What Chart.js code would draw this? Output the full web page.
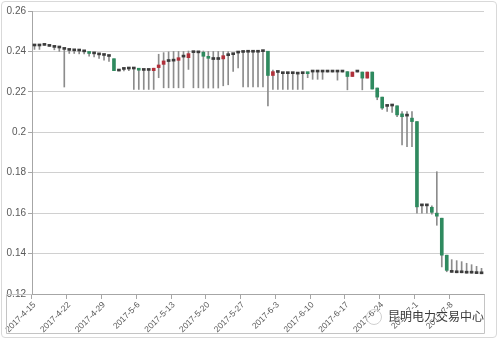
<!DOCTYPE html>
<html lang="zh-CN">
<head>
<meta charset="UTF-8">
<title>电价K线</title>
<script src="https://cdn.jsdelivr.net/npm/chart.js@4.4.0/dist/chart.umd.min.js"></script>
<style>
    * { margin: 0; padding: 0; box-sizing: border-box; }
    body { width: 499px; height: 340px; background: #fff; overflow: hidden; position: relative; }
    .frame { position: absolute; left: 1px; top: 1px; width: 496px; height: 337px; border: 1px solid #d9d9d9; border-radius: 4px; }
    .chart-box { position: absolute; left: 0; top: 0; width: 499px; height: 340px; }
    .logo { position: absolute; left: 366px; top: 309px; width: 16px; height: 16px; border: 1.5px solid #d0d0d0; border-radius: 50%; }
    .mark { position: absolute; left: 388px; top: 307px; font-family: 'Noto Sans CJK SC', sans-serif; font-size: 12px; color: #3a3a3a; text-shadow: 0 0 2px #fff, 0 0 2px #fff; white-space: nowrap; }
</style>
</head>
<body>
<div class="frame"></div>
<div class="chart-box"><canvas id="kChart"></canvas></div>
<div class="logo"></div>
<div class="mark">昆明电力交易中心</div>

<script>
    // daily candles from 2017-4-15
    const categories = [];
    for (let d = 0; d < 91; d++) {
        const t = new Date(2017, 3, 15 + d);
        categories.push(t.getFullYear() + '-' + (t.getMonth() + 1) + '-' + t.getDate());
    }

    const opens = [
        0.2427, 0.2427, 0.2430, 0.2425, 0.2420, 0.2417, 0.2410, 0.2405, 0.2403, 0.2402,
        0.2398, 0.2395, 0.2388, 0.2383, 0.2380, 0.2375, 0.2364, 0.2303, 0.2311, 0.2313,
        0.2313, 0.2313, 0.2306, 0.2306, 0.2305, 0.2320, 0.2336, 0.2350, 0.2352, 0.2356,
        0.2372, 0.2369, 0.2394, 0.2393, 0.2396, 0.2373, 0.2360, 0.2360, 0.2363, 0.2379,
        0.2384, 0.2392, 0.2395, 0.2396, 0.2396, 0.2396, 0.2399, 0.2401, 0.2281, 0.2296,
        0.2290, 0.2290, 0.2290, 0.2288, 0.2290, 0.2296, 0.2298, 0.2298, 0.2298, 0.2298,
        0.2298, 0.2298, 0.2298, 0.2300, 0.2276, 0.2298, 0.2298, 0.2268, 0.2298, 0.2219,
        0.2174, 0.2128, 0.2130, 0.2131, 0.2091, 0.2080, 0.2070, 0.2053, 0.1636, 0.1636,
        0.1629, 0.1600, 0.1575, 0.1392, 0.1307, 0.1305, 0.1305, 0.1303, 0.1303, 0.1301,
        0.1300
    ];
    const highs = [
        0.2427, 0.2427, 0.2430, 0.2425, 0.2420, 0.2417, 0.2410, 0.2405, 0.2403, 0.2402,
        0.2398, 0.2395, 0.2388, 0.2383, 0.2380, 0.2375, 0.2364, 0.2303, 0.2311, 0.2313,
        0.2313, 0.2313, 0.2306, 0.2306, 0.2317, 0.2386, 0.2394, 0.2398, 0.2400, 0.2400,
        0.2400, 0.2402, 0.2394, 0.2393, 0.2402, 0.2400, 0.2400, 0.2400, 0.2400, 0.2399,
        0.2384, 0.2392, 0.2395, 0.2396, 0.2396, 0.2396, 0.2399, 0.2401, 0.2308, 0.2296,
        0.2290, 0.2290, 0.2290, 0.2288, 0.2290, 0.2296, 0.2298, 0.2298, 0.2298, 0.2298,
        0.2298, 0.2298, 0.2298, 0.2300, 0.2298, 0.2298, 0.2298, 0.2298, 0.2298, 0.2219,
        0.2174, 0.2128, 0.2130, 0.2131, 0.2103, 0.2103, 0.2103, 0.2053, 0.1636, 0.1636,
        0.1636, 0.1805, 0.1575, 0.1392, 0.1370, 0.1365, 0.1360, 0.1352, 0.1345, 0.1337,
        0.1327
    ];
    const lows = [
        0.2410, 0.2410, 0.2430, 0.2425, 0.2408, 0.2400, 0.2224, 0.2390, 0.2390, 0.2388,
        0.2388, 0.2377, 0.2373, 0.2366, 0.2357, 0.2350, 0.2305, 0.2303, 0.2303, 0.2305,
        0.2212, 0.2212, 0.2212, 0.2212, 0.2212, 0.2270, 0.2220, 0.2220, 0.2220, 0.2220,
        0.2220, 0.2311, 0.2220, 0.2220, 0.2219, 0.2219, 0.2219, 0.2219, 0.2230, 0.2235,
        0.2301, 0.2318, 0.2225, 0.2225, 0.2225, 0.2225, 0.2225, 0.2131, 0.2212, 0.2212,
        0.2212, 0.2212, 0.2212, 0.2212, 0.2212, 0.2270, 0.2262, 0.2262, 0.2262, 0.2298,
        0.2298, 0.2258, 0.2298, 0.2210, 0.2276, 0.2298, 0.2210, 0.2268, 0.2214, 0.2161,
        0.2113, 0.2103, 0.2098, 0.2077, 0.1937, 0.1929, 0.1929, 0.1600, 0.1600, 0.1600,
        0.1595, 0.1540, 0.1334, 0.1310, 0.1307, 0.1305, 0.1305, 0.1303, 0.1303, 0.1301,
        0.1300
    ];
    const closes = [
        0.2427, 0.2427, 0.2430, 0.2425, 0.2420, 0.2417, 0.2410, 0.2405, 0.2403, 0.2402,
        0.2398, 0.2390, 0.2388, 0.2383, 0.2380, 0.2375, 0.2305, 0.2303, 0.2311, 0.2313,
        0.2313, 0.2307, 0.2306, 0.2306, 0.2317, 0.2333, 0.2353, 0.2350, 0.2352, 0.2369,
        0.2372, 0.2389, 0.2394, 0.2393, 0.2376, 0.2366, 0.2360, 0.2360, 0.2379, 0.2379,
        0.2384, 0.2392, 0.2395, 0.2396, 0.2396, 0.2396, 0.2399, 0.2281, 0.2300, 0.2296,
        0.2290, 0.2290, 0.2290, 0.2288, 0.2290, 0.2290, 0.2298, 0.2298, 0.2298, 0.2298,
        0.2298, 0.2298, 0.2298, 0.2276, 0.2298, 0.2298, 0.2268, 0.2298, 0.2214, 0.2174,
        0.2120, 0.2128, 0.2130, 0.2086, 0.2077, 0.2080, 0.2053, 0.1631, 0.1636, 0.1636,
        0.1604, 0.1585, 0.1392, 0.1317, 0.1307, 0.1305, 0.1305, 0.1303, 0.1303, 0.1301,
        0.1300
    ];

    const yTicks = { min: 0.12, max: 0.26, step: 0.02 };

    const bodyColors = opens.map((o, i) => {
        if (closes[i] < o) return '#2f8a5f';
        if (closes[i] > o) return '#b0303a';
        return '#3c3c3c';
    });

    // box around the date labels, like the excel original
    const labelBox = {
        id: 'labelBox',
        afterDraw(chart) {
            const { ctx, chartArea } = chart;
            const b = Math.round(chartArea.bottom) + 0.5;
            const r = Math.round(chartArea.right) + 0.5;
            ctx.save();
            ctx.strokeStyle = '#c4c4c4';
            ctx.lineWidth = 1;
            ctx.beginPath();
            ctx.moveTo(chartArea.left, b);
            ctx.lineTo(6.5, b);
            ctx.lineTo(6.5, b + 39);
            ctx.lineTo(r, b + 39);
            ctx.lineTo(r, b);
            ctx.stroke();
            ctx.restore();
        }
    };

    new Chart(document.getElementById('kChart'), {
        type: 'bar',
        data: {
            labels: categories,
            datasets: [{
                label: '实体',
                data: opens.map((o, i) => [o, closes[i]]),
                backgroundColor: bodyColors,
                barThickness: 3,
                minBarLength: 2,
                grouped: false,
                order: 1
            }, {
                label: '影线',
                data: lows.map((l, i) => [l, highs[i]]),
                backgroundColor: '#8c8c8c',
                barThickness: 1,
                grouped: false,
                order: 2
            }]
        },
        options: {
            responsive: true,
            maintainAspectRatio: false,
            animation: false,
            layout: { padding: { left: 0, right: 15, top: 11, bottom: 0 } },
            plugins: {
                legend: { display: false },
                tooltip: { enabled: false }
            },
            scales: {
                x: {
                    offset: true,
                    grid: {
                        drawOnChartArea: false,
                        drawTicks: true,
                        tickLength: 5,
                        offset: true,
                        tickColor: ctx => ctx.index % 7 === 0 ? '#a6a6a6' : 'rgba(0,0,0,0)'
                    },
                    border: { color: '#a6a6a6' },
                    ticks: {
                        autoSkip: false,
                        maxRotation: 45,
                        minRotation: 45,
                        padding: 1,
                        color: '#595959',
                        font: { family: 'Liberation Sans', size: 8.5 },
                        callback: (v, i) => i % 7 === 0 ? categories[i] : ''
                    },
                    afterFit: s => { s.height = 46; }
                },
                y: {
                    min: yTicks.min,
                    max: yTicks.max,
                    grid: { color: '#d0d0d0', tickLength: 4, tickColor: '#a6a6a6' },
                    border: { color: '#a6a6a6' },
                    ticks: {
                        stepSize: yTicks.step,
                        padding: 2,
                        color: '#595959',
                        font: { family: 'Liberation Sans', size: 10 },
                        callback: v => String(Number(v.toFixed(2)))
                    },
                    afterFit: s => { s.width = 32; }
                }
            }
        },
        plugins: [labelBox]
    });
</script>
</body>
</html>
